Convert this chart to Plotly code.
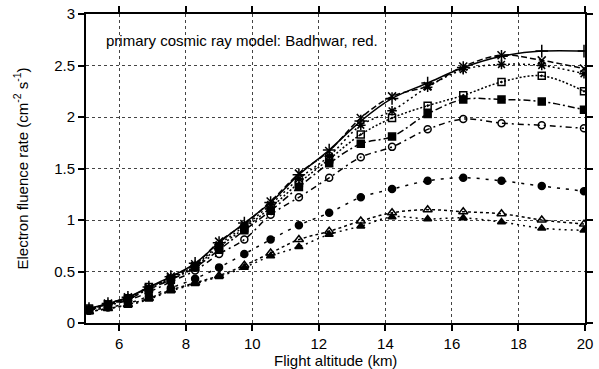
import plotly.graph_objects as go

# Flight altitude (km)
altitude = [5.09, 5.66, 6.26, 6.89, 7.55, 8.28, 9.0, 9.76, 10.55, 11.4,
            12.31, 13.26, 14.2, 15.27, 16.34, 17.49, 18.7, 19.97]

# Electron fluence rate (cm^-2 s^-1)
s_plus = [0.14, 0.19, 0.25, 0.35, 0.45, 0.58, 0.78, 0.97, 1.17, 1.44,
          1.68, 1.96, 2.18, 2.33, 2.48, 2.59, 2.64, 2.64]
s_cross = [0.13, 0.19, 0.25, 0.34, 0.45, 0.57, 0.79, 0.96, 1.18, 1.45,
           1.67, 1.99, 2.20, 2.30, 2.49, 2.60, 2.55, 2.47]
s_star = [0.13, 0.18, 0.24, 0.34, 0.44, 0.56, 0.76, 0.94, 1.15, 1.40,
          1.62, 1.92, 2.06, 2.29, 2.46, 2.51, 2.50, 2.42]
s_osq = [0.14, 0.18, 0.24, 0.35, 0.43, 0.55, 0.74, 0.92, 1.12, 1.36,
         1.59, 1.83, 1.99, 2.11, 2.21, 2.34, 2.40, 2.25]
s_fsq = [0.13, 0.18, 0.23, 0.33, 0.42, 0.54, 0.71, 0.90, 1.09, 1.32,
         1.55, 1.74, 1.81, 2.03, 2.17, 2.17, 2.15, 2.07]
s_ocirc = [0.12, 0.17, 0.22, 0.30, 0.40, 0.51, 0.67, 0.81, 1.05, 1.22,
           1.41, 1.61, 1.71, 1.88, 1.98, 1.94, 1.92, 1.89]
s_fcirc = [0.12, 0.15, 0.19, 0.26, 0.34, 0.43, 0.54, 0.67, 0.81, 0.95,
           1.07, 1.22, 1.30, 1.38, 1.41, 1.38, 1.33, 1.28]
s_otri = [0.11, 0.14, 0.18, 0.24, 0.32, 0.39, 0.46, 0.56, 0.68, 0.81,
          0.89, 0.99, 1.07, 1.10, 1.08, 1.06, 1.00, 0.96]
s_ftri = [0.11, 0.14, 0.17, 0.23, 0.31, 0.38, 0.45, 0.54, 0.65, 0.74,
          0.86, 0.94, 1.03, 1.01, 1.02, 0.98, 0.92, 0.90]

series = [
    (s_plus, "cross-thin-open", 9, "solid"),
    (s_cross, "x-thin-open", 8, "6px,3px"),
    (s_star, "asterisk-open", 8, "2px,3px"),
    (s_osq, "square-open-dot", 7, "2px,2px"),
    (s_fsq, "square", 7, "7px,3px,2px,3px"),
    (s_ocirc, "circle-open", 7, "6px,4px,2px,4px"),
    (s_fcirc, "circle", 7, "3px,6px"),
    (s_otri, "triangle-up-open", 8, "3px,3px"),
    (s_ftri, "triangle-up", 7, "2px,4px"),
]

fig = go.Figure()
for vals, sym, size, dash in series:
    fig.add_trace(go.Scatter(
        x=altitude, y=vals, mode="lines+markers",
        line=dict(color="black", width=1.5, dash=dash, shape="spline", smoothing=1),
        marker=dict(symbol=sym, size=size, color="black",
                    line=dict(color="black", width=1.5)),
        showlegend=False,
    ))

font_family = "Liberation Sans, Arial, Helvetica, sans-serif"
axis_common = dict(
    showline=True, linewidth=2, linecolor="black", mirror="ticks",
    ticks="outside", ticklen=6, tickwidth=1.5, tickcolor="black",
    showgrid=True, gridcolor="#444444", gridwidth=1, griddash="dot",
    zeroline=False, automargin=False,
    tickfont=dict(size=15, color="black", family=font_family),
)

fig.update_xaxes(range=[5, 20], tick0=0, dtick=2, **axis_common)
fig.update_yaxes(range=[0, 3], tick0=0, dtick=0.5, **axis_common)

fig.update_layout(
    width=599, height=369,
    margin=dict(l=86, r=14, t=14, b=46),
    paper_bgcolor="white", plot_bgcolor="white",
    font=dict(family=font_family, color="black", size=15),
    annotations=[
        dict(text="primary cosmic ray model: Badhwar, red.",
             xref="paper", yref="paper", x=0.036, y=0.914,
             xanchor="left", yanchor="middle", showarrow=False,
             font=dict(size=15, color="black", family=font_family)),
        dict(text="Flight altitude (km)",
             xref="paper", yref="paper", x=0.5, y=0, yshift=-37,
             xanchor="center", yanchor="middle", showarrow=False,
             font=dict(size=15, color="black", family=font_family)),
        dict(text="Electron fluence rate (cm<sup>-2</sup> s<sup>-1</sup>)",
             xref="paper", yref="paper", x=0, y=0.5, xshift=-65,
             xanchor="center", yanchor="middle", textangle=-90, showarrow=False,
             font=dict(size=15, color="black", family=font_family)),
    ],
)

fig.write_html("out.html")
